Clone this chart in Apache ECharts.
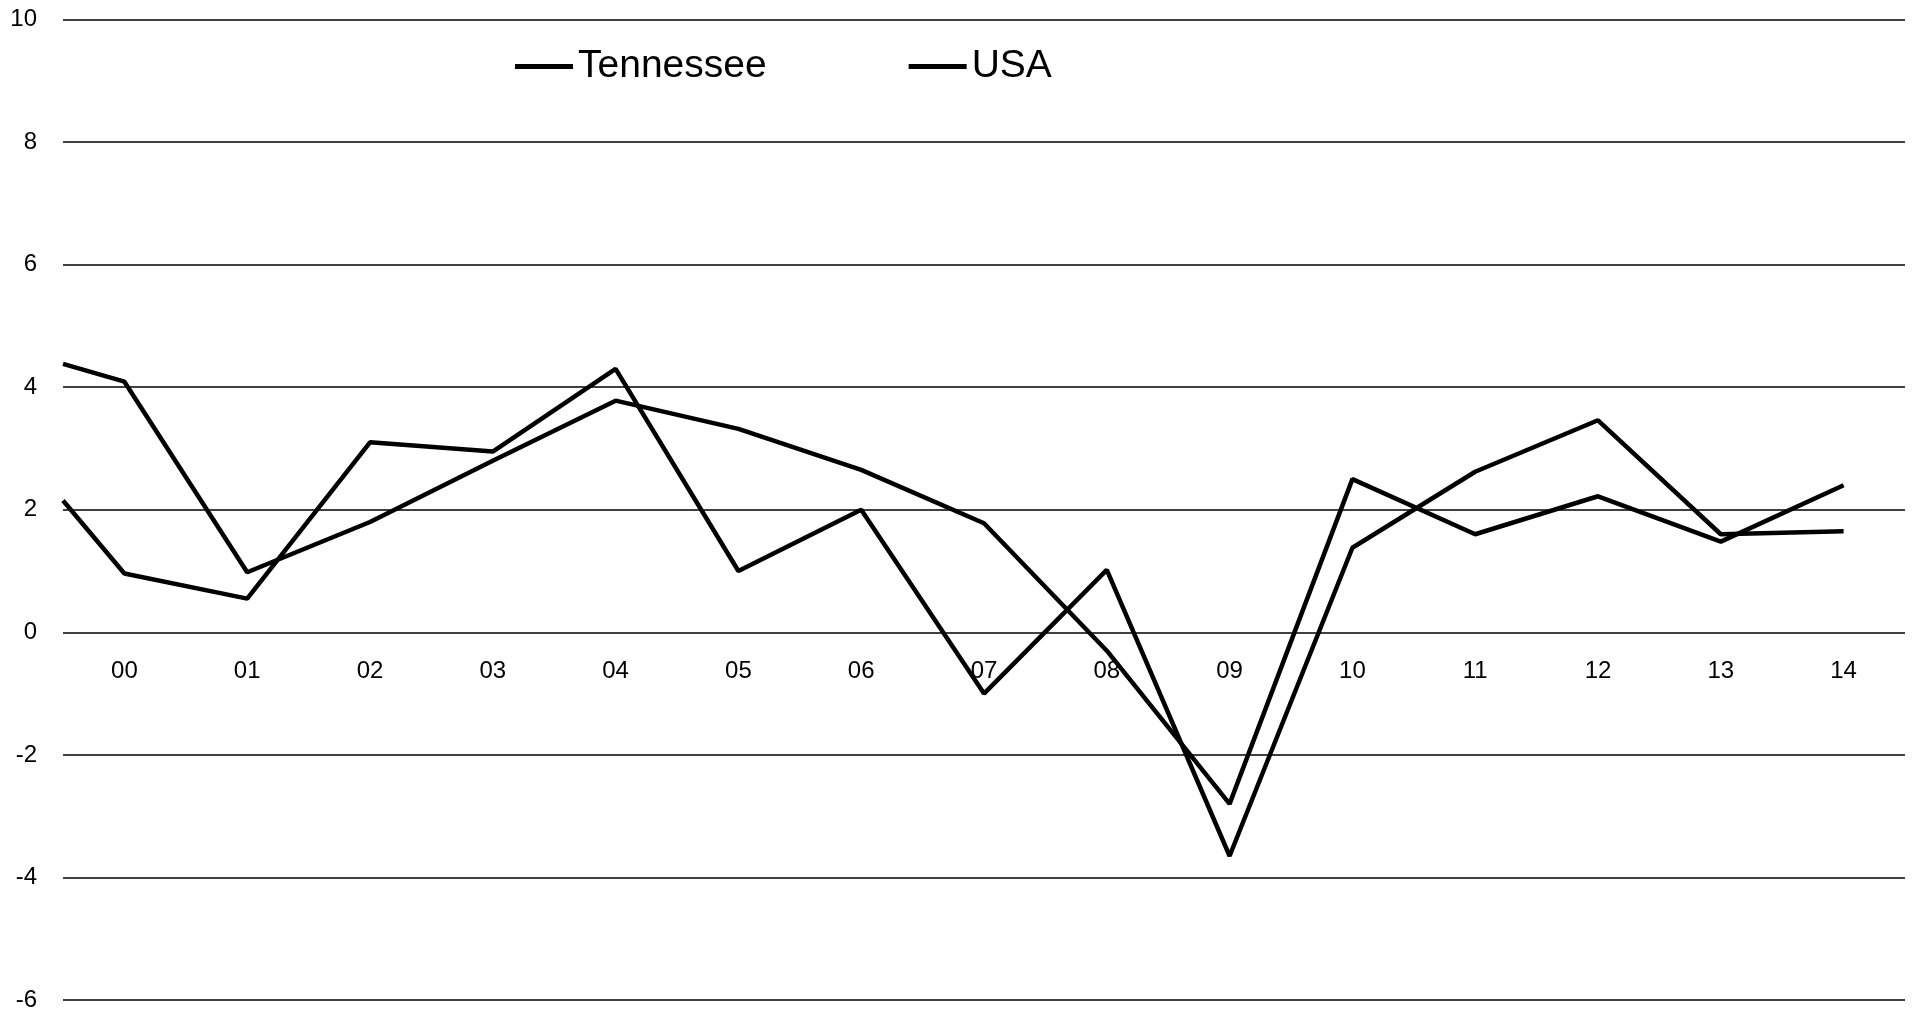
<!DOCTYPE html>
<html>
<head>
<meta charset="utf-8">
<title>Tennessee vs USA</title>
<script src="https://cdn.jsdelivr.net/npm/echarts@6/dist/echarts.min.js"></script>
<style>
  html, body { margin: 0; padding: 0; background: #fff; }
  #chart { width: 1912px; height: 1012px; }
</style>
</head>
<body>
<div id="chart"></div>
<script>
// Year tick labels (2000–2014)
const yearLabels = ['00', '01', '02', '03', '04', '05', '06', '07', '08', '09', '10', '11', '12', '13', '14'];
// Value-axis ticks
const yTicks = { min: -6, max: 10, step: 2 };
// Annual growth, %. The first sample sits at the left edge, half a year before '00'.
const tennessee = [2.15, 0.96, 0.55, 3.1, 2.95, 4.3, 1.0, 2.0, -1.0, 1.02, -3.65, 1.38, 2.62, 3.46, 1.6, 1.65];
const usa = [4.38, 4.09, 0.98, 1.8, 2.8, 3.78, 3.32, 2.65, 1.78, -0.3, -2.8, 2.5, 1.6, 2.22, 1.48, 2.4];
const seriesNames = ['Tennessee', 'USA'];

const xPos = [-0.5].concat(yearLabels.map((_, i) => i));
const pairs = vals => vals.map((v, i) => [xPos[i], v]);

const FONT = "'Liberation Sans', Arial, sans-serif";
const CHART_H = 1012;
const GRID = { left: 63, right: 7, top: 19.5, bottom: 10 };
// Lift the year axis from the plot bottom up to the zero line.
const plotH = CHART_H - GRID.top - GRID.bottom;
const zeroLift = plotH * (0 - yTicks.min) / (yTicks.max - yTicks.min);

const chart = echarts.init(document.getElementById('chart'), null, { renderer: 'canvas' });

chart.setOption({
  animation: false,
  backgroundColor: '#ffffff',
  textStyle: { fontFamily: FONT, color: '#000' },
  grid: GRID,
  legend: {
    data: seriesNames,
    left: 510,
    top: 42,
    icon: 'rect',
    itemWidth: 58,
    itemHeight: 5,
    itemGap: 142,
    textStyle: { fontFamily: FONT, fontSize: 39, color: '#000' },
    inactiveColor: '#000'
  },
  xAxis: {
    type: 'value',
    min: -0.5,
    max: yearLabels.length - 0.5,
    offset: -zeroLift,
    splitLine: { show: false },
    axisTick: { show: false },
    axisLine: { show: false, onZero: false },
    axisLabel: {
      customValues: yearLabels.map((_, i) => i),
      formatter: v => yearLabels[Math.round(v)],
      fontSize: 24,
      color: '#000',
      margin: 28,
      fontFamily: FONT
    }
  },
  yAxis: {
    type: 'value',
    min: yTicks.min,
    max: yTicks.max,
    interval: yTicks.step,
    axisLine: { show: false, onZero: false },
    axisTick: { show: false },
    splitLine: { show: true, lineStyle: { color: '#000', width: 1.6 } },
    axisLabel: { fontSize: 24, color: '#000', margin: 26, fontFamily: FONT }
  },
  series: [
    {
      name: seriesNames[0],
      type: 'line',
      data: pairs(tennessee),
      symbol: 'none',
      lineStyle: { color: '#000', width: 4.5 },
      itemStyle: { color: '#000' }
    },
    {
      name: seriesNames[1],
      type: 'line',
      data: pairs(usa),
      symbol: 'none',
      lineStyle: { color: '#000', width: 4.5 },
      itemStyle: { color: '#000' }
    }
  ]
});
</script>
</body>
</html>
